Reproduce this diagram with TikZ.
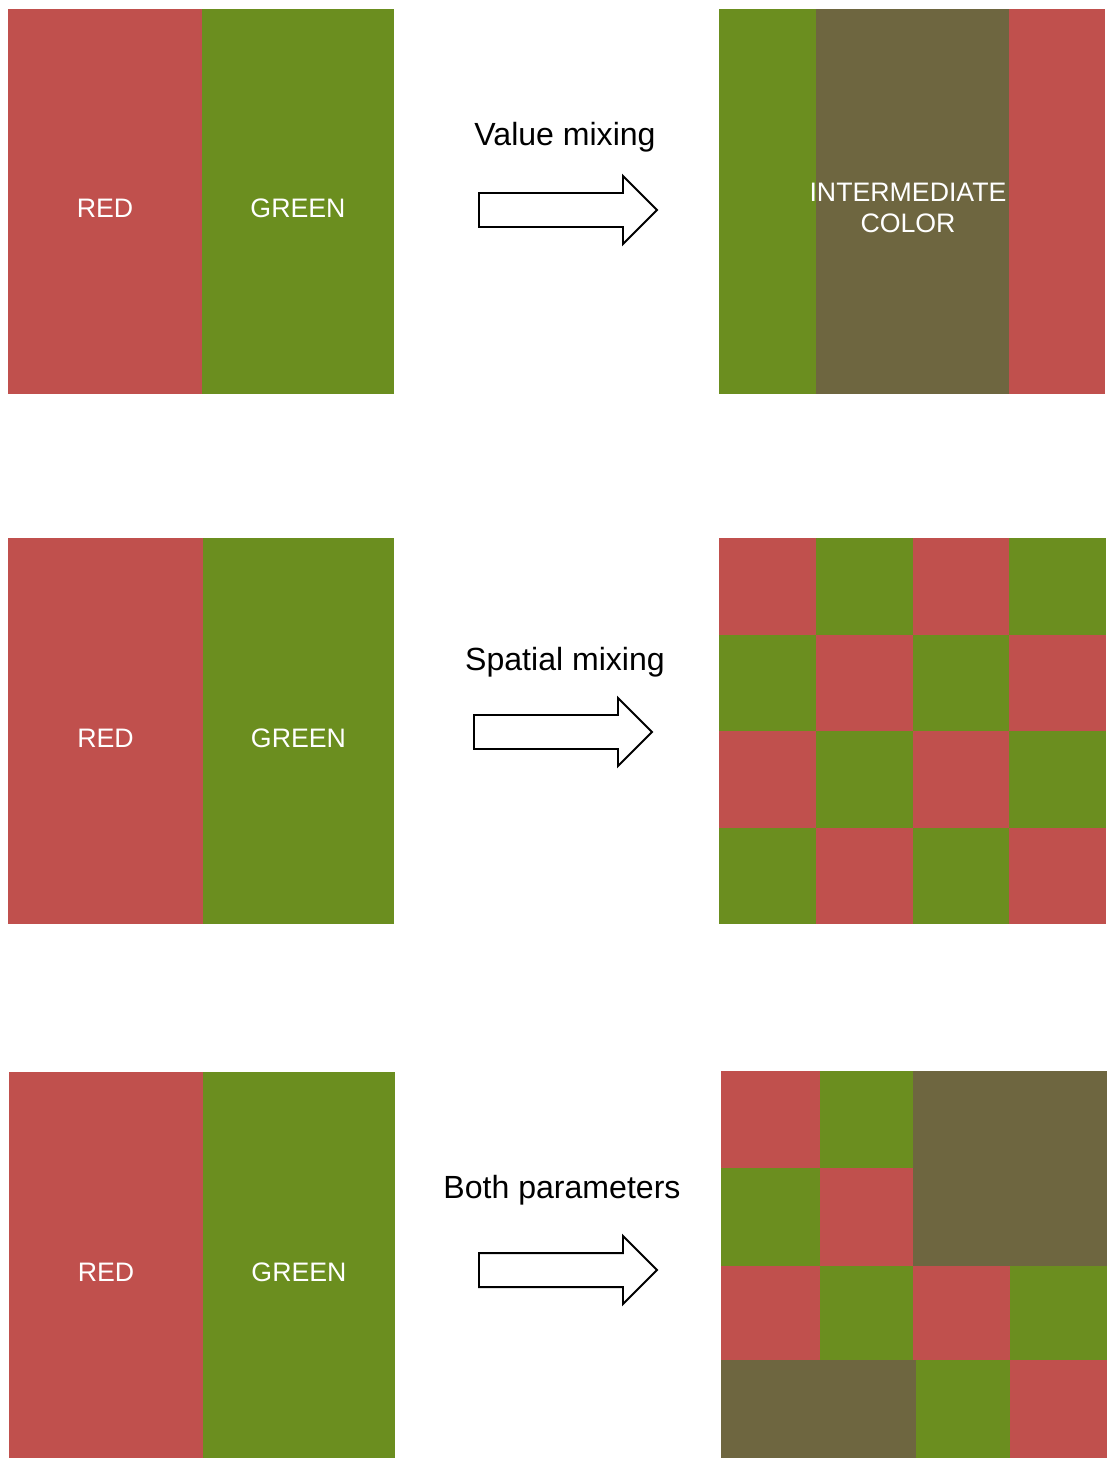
\documentclass[tikz,border=0pt]{standalone}
\usepackage{fontspec}
\setmainfont{Liberation Sans}
\usetikzlibrary{positioning}
\definecolor{mixred}{HTML}{C0504D}
\definecolor{mixgreen}{HTML}{6B8E1F}
\definecolor{mixolive}{HTML}{6E6640}

\begin{document}
\begin{tikzpicture}[x=0.025cm, y=-0.025cm,
    boxtext/.style={text=white, font=\fontsize{19}{22}\selectfont, inner sep=0pt, align=center},
    mixlabel/.style={font=\fontsize{22.8}{26}\selectfont, inner sep=0pt, anchor=base},
    blockarrow/.style={draw=black, line width=1.4pt, fill=white, line join=miter},
]
\useasboundingbox (0,0) rectangle (1107,1461);

% Input panels (red | green)
\foreach \yt/\yb/\xa/\xb/\xc [count=\r] in {9/394/8/202/394, 538/924/8/203/394, 1072/1458/9/203/395} {
  \fill[mixred] (\xa,\yt) rectangle (\xb,\yb);
  \fill[mixgreen] (\xb,\yt) rectangle (\xc,\yb);
  \node[boxtext] (red\r) at ({(\xa+\xb)/2},{(\yt+\yb)/2+7}) {RED};
  \node[boxtext] (green\r) at ({(\xb+\xc)/2},{(\yt+\yb)/2+7}) {GREEN};
}

% Value mixing result
\fill[mixgreen] (719,9) rectangle (816,394);
\fill[mixolive] (816,9) rectangle (1009,394);
\fill[mixred] (1009,9) rectangle (1105,394);
\node[boxtext] (inter) at (908,208) {INTERMEDIATE\\COLOR};

% Spatial mixing result
\foreach \i in {0,...,3} {
  \foreach \j in {0,...,3} {
    \pgfmathtruncatemacro\k{mod(\i+\j,2)}
    \ifnum\k=0 \def\cellc{mixred}\else\def\cellc{mixgreen}\fi
    \fill[\cellc] ({719+96.75*\i},{538+96.5*\j}) rectangle ++(96.75,96.5);
  }
}

% Both parameters result
\foreach \xa/\ya/\xb/\yb/\cellc in {
    721/1071/820/1168/mixred, 820/1071/913/1168/mixgreen,
    721/1168/820/1266/mixgreen, 820/1168/913/1266/mixred,
    913/1071/1107/1266/mixolive,
    721/1266/820/1360/mixred, 820/1266/913/1360/mixgreen,
    913/1266/1010/1360/mixred, 1010/1266/1107/1360/mixgreen,
    721/1360/916/1458/mixolive, 916/1360/1010/1458/mixgreen,
    1010/1360/1107/1458/mixred} {
  \fill[\cellc] (\xa,\ya) rectangle (\xb,\yb);
}

% Arrows and labels
\foreach \ax/\ay [count=\r] in {479/210, 474/732, 479/1270} {
  \draw[blockarrow] (\ax,\ay-17) -- ++(144,0) -- ++(0,-17) -- ++(34,34)
    -- ++(-34,34) -- ++(0,-17) -- ++(-144,0) -- cycle;
}
\node[mixlabel] (lblvalue) at (565,145) {Value mixing};
\node[mixlabel] (lblspatial) at (565,670) {Spatial mixing};
\node[mixlabel] (lblboth) at (562,1198) {Both parameters};

\end{tikzpicture}
\end{document}
